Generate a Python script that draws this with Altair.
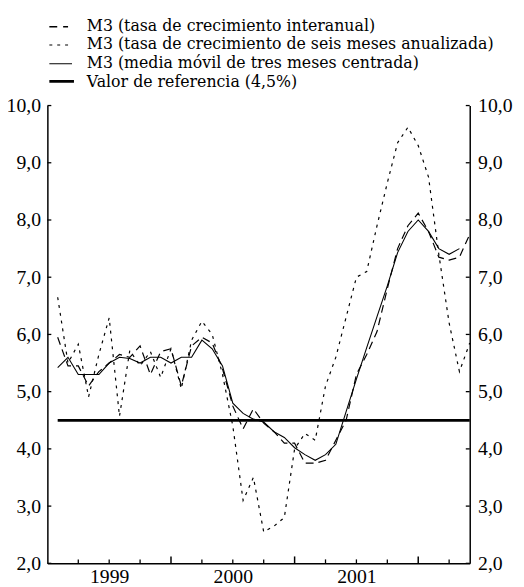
import altair as alt
import pandas as pd

# ---- data (month index: 1 = Jan 1999 ... 41 = May 2002) ----
mes = list(range(1, 42))
interanual = [5.95, 5.45, 5.45, 5.10, 5.35, 5.50, 5.65, 5.60, 5.80, 5.30,
              5.70, 5.75, 5.10, 5.80, 5.95, 5.85, 5.40, 4.75, 4.35, 4.70,
              4.45, 4.30, 4.10, 4.10, 3.75, 3.75, 3.80, 4.15, 4.50, 5.30,
              5.65, 6.05, 6.80, 7.50, 7.90, 8.12, 7.80, 7.35, 7.30, 7.35, 7.75]
seis_meses = [6.65, 5.50, 5.83, 4.91, 5.65, 6.29, 4.57, 5.72, 5.45, 5.70,
              5.25, 5.75, 5.05, 5.90, 6.23, 6.00, 5.30, 4.40, 3.10, 3.50,
              2.55, 2.65, 2.80, 4.00, 4.27, 4.15, 5.10, 5.60, 6.30, 7.00,
              7.10, 7.90, 8.65, 9.35, 9.62, 9.30, 8.75, 7.40, 6.20, 5.35, 5.85]
media_movil = [5.42, 5.60, 5.30, 5.30, 5.30, 5.50, 5.60, 5.58, 5.50, 5.60,
               5.60, 5.50, 5.60, 5.60, 5.90, 5.75, 5.45, 4.80, 4.62, 4.52,
               4.47, 4.30, 4.20, 4.02, 3.90, 3.80, 3.90, 4.08, 4.65, 5.22,
               5.77, 6.31, 6.85, 7.43, 7.80, 8.00, 7.80, 7.50, 7.40, 7.50, None]
ref_valor = 4.5
ref_desde, ref_hasta = 1, 41

anos = ["1999", "2000", "2001"]
ano_pos = [6, 18, 30]
trimestres = [3, 6, 9, 15, 18, 21, 27, 30, 33, 39]
inicio_ano = [12, 24, 36]
y_ticks = [2, 3, 4, 5, 6, 7, 8, 9, 10]

leyenda = ["M3 (tasa de crecimiento interanual)",
           "M3 (tasa de crecimiento de seis meses anualizada)",
           "M3 (media móvil de tres meses centrada)",
           "Valor de referencia (4,5%)"]

# ---- layout ----
W, H = 429, 465
FONT = "Liberation Serif"
FS = 20
FONT_L = "DejaVu Serif"
FL = 16

df = pd.DataFrame({"mes": mes, "interanual": interanual,
                   "seis": seis_meses, "media": media_movil})
xs = alt.Scale(domain=[0, 41], nice=False, zero=False)
ys = alt.Scale(domain=[2, 10], nice=False, zero=False)

label_expr = " : ".join(
    f"datum.value == {p} ? '{a}'" for p, a in zip(ano_pos, anos)) + " : ''"
xaxis = alt.Axis(values=ano_pos, labelExpr=label_expr, tickSize=0, grid=False,
                 title=None, domainColor="black", domainWidth=1.5,
                 labelFont=FONT, labelFontSize=FS, labelColor="black",
                 labelPadding=3)
ylab = "replace(format(datum.value, '.1f'), '.', ',')"
yleft = alt.Axis(values=y_ticks, labelExpr=ylab, tickSize=0, grid=False,
                 title=None, orient="left", domainColor="black",
                 domainWidth=1.5, labelFont=FONT, labelFontSize=FS,
                 labelColor="black", labelPadding=7)
yright = alt.Axis(values=y_ticks, labelExpr=ylab, tickSize=0, grid=False,
                  title=None, orient="right", domainColor="black",
                  domainWidth=1.5, labelFont=FONT, labelFontSize=FS,
                  labelColor="black", labelPadding=8)


def X(f):
    return alt.X(f"{f}:Q", scale=xs, axis=xaxis)


def Y(f, axis=None):
    return alt.Y(f"{f}:Q", scale=ys, axis=axis)


base = alt.Chart(df)
l_ref = alt.Chart(pd.DataFrame({"a": [ref_desde], "b": [ref_hasta],
                                "v": [ref_valor]})).mark_rule(
    color="black", strokeWidth=2.8).encode(x=X("a"), x2="b", y=Y("v"))
l_int = base.mark_line(color="black", strokeWidth=1.2,
                       strokeDash=[8, 5]).encode(x=X("mes"), y=Y("interanual"))
l_six = base.mark_line(color="black", strokeWidth=1.2,
                       strokeDash=[3, 5]).encode(x=X("mes"), y=Y("seis"))
l_ma = base.mark_line(color="black", strokeWidth=1.1).encode(
    x=X("mes"), y=Y("media"))

tk = pd.DataFrame({"t": trimestres})
tl = pd.DataFrame({"t": inicio_ano})
l_xt = alt.Chart(tk).mark_rule(color="black", strokeWidth=1.3).encode(
    x=X("t"), y=alt.value(H), y2=alt.value(H - 4))
l_xl = alt.Chart(tl).mark_rule(color="black", strokeWidth=1.5).encode(
    x=X("t"), y=alt.value(H), y2=alt.value(H - 7))
yt = pd.DataFrame({"v": y_ticks})
l_yl = alt.Chart(yt).mark_rule(color="black", strokeWidth=1.3).encode(
    y=Y("v", yleft), x=alt.value(0), x2=alt.value(4))
l_yr = alt.Chart(yt).mark_rule(color="black", strokeWidth=1.3).encode(
    y=Y("v", yright), x=alt.value(W), x2=alt.value(W - 4))

one = pd.DataFrame({"a": [0]})
text_y = [-81, -62, -43, -24]
line_y = [-80, -61.5, -42.5, -24.5]
styles = [dict(strokeDash=[8, 6], strokeWidth=1.6, x2=21),
          dict(strokeDash=[3, 5], strokeWidth=1.2, x2=22),
          dict(strokeDash=[1, 0], strokeWidth=1.1, x2=25),
          dict(strokeDash=[1, 0], strokeWidth=2.8, x2=27)]
leg = []
for lab, ty, ly, st in zip(leyenda, text_y, line_y, styles):
    leg.append(alt.Chart(one).mark_rule(
        color="black", strokeWidth=st["strokeWidth"],
        strokeDash=st["strokeDash"]).encode(
        x=alt.value(2), x2=alt.value(st["x2"]), y=alt.value(ly)))
    leg.append(alt.Chart(one).mark_text(
        text=lab, font=FONT_L, fontSize=FL, align="left", baseline="middle",
        color="black").encode(x=alt.value(40), y=alt.value(ty)))

chart = alt.layer(l_ref, l_int, l_six, l_ma, l_xt, l_xl, l_yl, l_yr,
                  *leg).resolve_axis(y="independent").properties(
    width=W, height=H,
    padding={"left": 40, "top": 94.5, "right": 47, "bottom": 22},
    autosize=alt.AutoSizeParams(type="none")
).configure_view(stroke=None)

chart.save("out.html", embed_options={"renderer": "svg", "actions": False})
